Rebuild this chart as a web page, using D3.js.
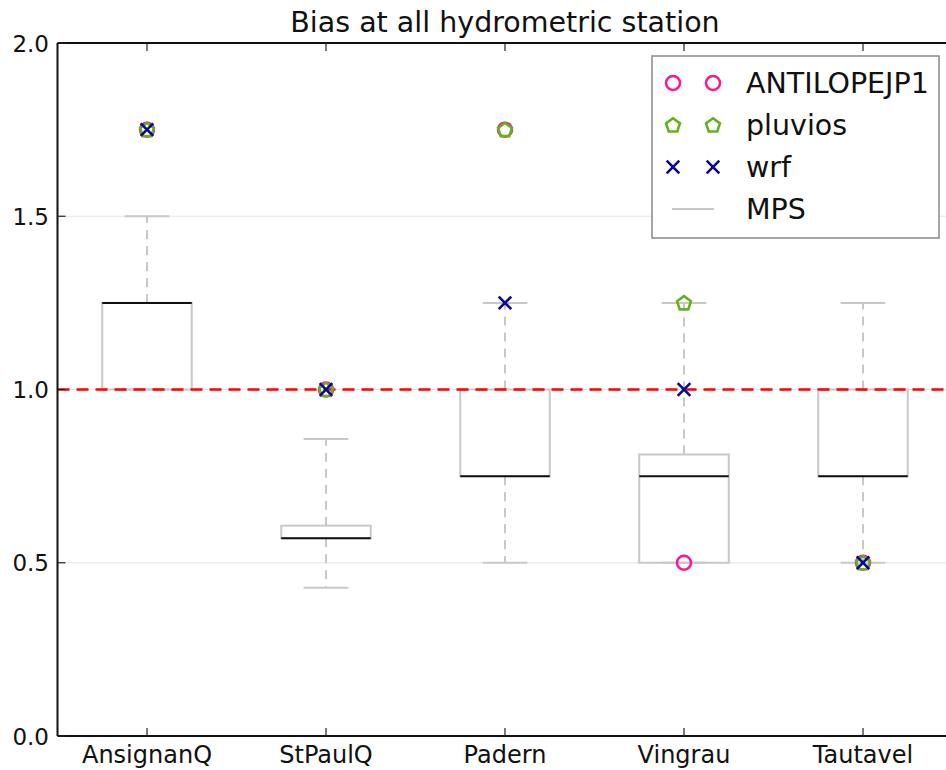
<!DOCTYPE html>
<html>
<head>
<meta charset="utf-8">
<script src="https://cdn.jsdelivr.net/npm/d3@7"></script>
<style>
  html, body { margin: 0; padding: 0; background: #fff; }
  svg { display: block; font-family: "DejaVu Sans", sans-serif; }
</style>
</head>
<body>
<svg id="chart" width="946" height="770"></svg>
<script>
// ---- data ----
const categories = ["AnsignanQ", "StPaulQ", "Padern", "Vingrau", "Tautavel"];
const whiskerLow  = [1.0, 0.428, 0.5, 0.5, 0.5];
const q1          = [1.0, 0.571, 0.75, 0.5, 0.75];
const medians     = [1.25, 0.571, 0.75, 0.75, 0.75];
const q3          = [1.25, 0.607, 1.0, 0.8125, 1.0];
const whiskerHigh = [1.5, 0.857, 1.25, 1.25, 1.25];
const antilope    = [1.75, 1.0, 1.75, 0.5, 0.5];
const pluvios     = [1.75, 1.0, 1.75, 1.25, 0.5];
const wrf         = [1.75, 1.0, 1.25, 1.0, 0.5];
const yTicks      = [0.0, 0.5, 1.0, 1.5, 2.0];
const refValue    = 1.0;
const legendLabels = ["ANTILOPEJP1", "pluvios", "wrf", "MPS"];
const titleText = "Bias at all hydrometric station";

(function () {
// ---- layout ----
const pl = 57.5, pr = 952.5, pt = 43, pb = 736;
const svg = d3.select("#chart");

const x = d3.scaleLinear().domain([0.5, 5.5]).range([pl, pr]);
const y = d3.scaleLinear().domain([0, 2]).range([pb, pt]);
const boxHalf = x(1.25) - x(1);      // widths 0.5 -> half 0.25
const capHalf = x(1.125) - x(1);     // cap width 0.25 -> half 0.125

const boxColor = "#c8c8c8";
const pink = "#ff1493", green = "#66b022", navy = "#0a0a8c";

// grid
svg.append("g").selectAll("line").data(yTicks).join("line")
  .attr("x1", pl).attr("x2", pr)
  .attr("y1", d => y(d)).attr("y2", d => y(d))
  .attr("stroke", "#e4e4e4").attr("stroke-width", 1.2);

// boxes
const boxes = svg.append("g");
categories.forEach((c, i) => {
  const cx = x(i + 1);
  const g = boxes.append("g");
  g.append("line").attr("x1", cx).attr("x2", cx)
    .attr("y1", y(q3[i])).attr("y2", y(whiskerHigh[i]))
    .attr("stroke", boxColor).attr("stroke-width", 2).attr("stroke-dasharray", "9,7");
  g.append("line").attr("x1", cx).attr("x2", cx)
    .attr("y1", y(q1[i])).attr("y2", y(whiskerLow[i]))
    .attr("stroke", boxColor).attr("stroke-width", 2).attr("stroke-dasharray", "9,7");
  [whiskerHigh[i], whiskerLow[i]].forEach(v => {
    g.append("line").attr("x1", cx - capHalf).attr("x2", cx + capHalf)
      .attr("y1", y(v)).attr("y2", y(v))
      .attr("stroke", boxColor).attr("stroke-width", 2);
  });
  g.append("rect").attr("x", cx - boxHalf).attr("width", 2 * boxHalf)
    .attr("y", y(q3[i])).attr("height", Math.max(0, y(q1[i]) - y(q3[i])))
    .attr("fill", "none").attr("stroke", boxColor).attr("stroke-width", 2);
  g.append("line").attr("x1", cx - boxHalf).attr("x2", cx + boxHalf)
    .attr("y1", y(medians[i])).attr("y2", y(medians[i]))
    .attr("stroke", "#111").attr("stroke-width", 2);
});

// reference line
svg.append("line").attr("x1", pl).attr("x2", pr)
  .attr("y1", y(refValue)).attr("y2", y(refValue))
  .attr("stroke", "#ff0000").attr("stroke-width", 2.4).attr("stroke-dasharray", "12,7");

// marker helpers
function pentagonPath(r) {
  const p = d3.range(5).map(k => {
    const a = -Math.PI / 2 + k * 2 * Math.PI / 5;
    return [r * Math.cos(a), r * Math.sin(a)];
  });
  return "M" + p.map(q => q.join(",")).join("L") + "Z";
}
function drawCircle(g, cx, cy) {
  g.append("circle").attr("cx", cx).attr("cy", cy).attr("r", 7)
    .attr("fill", "none").attr("stroke", pink).attr("stroke-width", 2.5);
}
function drawPentagon(g, cx, cy) {
  g.append("path").attr("d", pentagonPath(7.3))
    .attr("transform", `translate(${cx},${cy + 0.6})`)
    .attr("fill", "none").attr("stroke", green).attr("stroke-width", 2.6);
}
function drawCross(g, cx, cy) {
  const s = 6.3;
  g.append("path").attr("d", `M${-s},${-s}L${s},${s}M${-s},${s}L${s},${-s}`)
    .attr("transform", `translate(${cx},${cy})`)
    .attr("fill", "none").attr("stroke", navy).attr("stroke-width", 2.6);
}

const mk = svg.append("g");
antilope.forEach((v, i) => drawCircle(mk, x(i + 1), y(v)));
pluvios.forEach((v, i) => drawPentagon(mk, x(i + 1), y(v)));
wrf.forEach((v, i) => drawCross(mk, x(i + 1), y(v)));

// spines
const sp = svg.append("g").attr("stroke", "#111").attr("stroke-width", 2);
sp.append("line").attr("x1", pl).attr("x2", pl).attr("y1", pt).attr("y2", pb);
sp.append("line").attr("x1", pl).attr("x2", pr).attr("y1", pb).attr("y2", pb);
sp.append("line").attr("x1", pl).attr("x2", pr).attr("y1", pt).attr("y2", pt);
sp.append("line").attr("x1", pr).attr("x2", pr).attr("y1", pt).attr("y2", pb);

// ticks (inside)
const tk = svg.append("g").attr("stroke", "#222").attr("stroke-width", 1.2);
categories.forEach((c, i) => {
  tk.append("line").attr("x1", x(i + 1)).attr("x2", x(i + 1)).attr("y1", pb).attr("y2", pb - 8);
  tk.append("line").attr("x1", x(i + 1)).attr("x2", x(i + 1)).attr("y1", pt).attr("y2", pt + 8);
});
yTicks.forEach(v => {
  tk.append("line").attr("x1", pl).attr("x2", pl + 8).attr("y1", y(v)).attr("y2", y(v));
});

// tick labels
svg.append("g").selectAll("text").data(categories).join("text")
  .attr("x", (d, i) => x(i + 1)).attr("y", 763)
  .attr("text-anchor", "middle").attr("font-size", 24).attr("fill", "#111")
  .text(d => d);
svg.append("g").selectAll("text").data(yTicks).join("text")
  .attr("x", 49).attr("y", d => y(d) + 8.5)
  .attr("text-anchor", "end").attr("font-size", 23).attr("fill", "#111")
  .text(d => d3.format(".1f")(d));

// title
svg.append("text").attr("x", (pl + pr) / 2).attr("y", 32)
  .attr("text-anchor", "middle").attr("font-size", 28.5).attr("fill", "#111")
  .text(titleText);

// legend
const lg = svg.append("g");
lg.append("rect").attr("x", 652).attr("y", 56).attr("width", 287).attr("height", 182)
  .attr("fill", "#fff").attr("stroke", "#888").attr("stroke-width", 1.5);
const rowY = k => 83 + k * 42;
const m1 = 673, m2 = 713;
drawCircle(lg, m1, rowY(0)); drawCircle(lg, m2, rowY(0));
drawPentagon(lg, m1, rowY(1)); drawPentagon(lg, m2, rowY(1));
drawCross(lg, m1, rowY(2)); drawCross(lg, m2, rowY(2));
lg.append("line").attr("x1", m1 - 1).attr("x2", m2 + 1).attr("y1", rowY(3)).attr("y2", rowY(3))
  .attr("stroke", boxColor).attr("stroke-width", 2);
legendLabels.forEach((t, k) => {
  lg.append("text").attr("x", 746).attr("y", rowY(k) + 10)
    .attr("font-size", 28.5).attr("fill", "#111").text(t);
});
})();
</script>
</body>
</html>
